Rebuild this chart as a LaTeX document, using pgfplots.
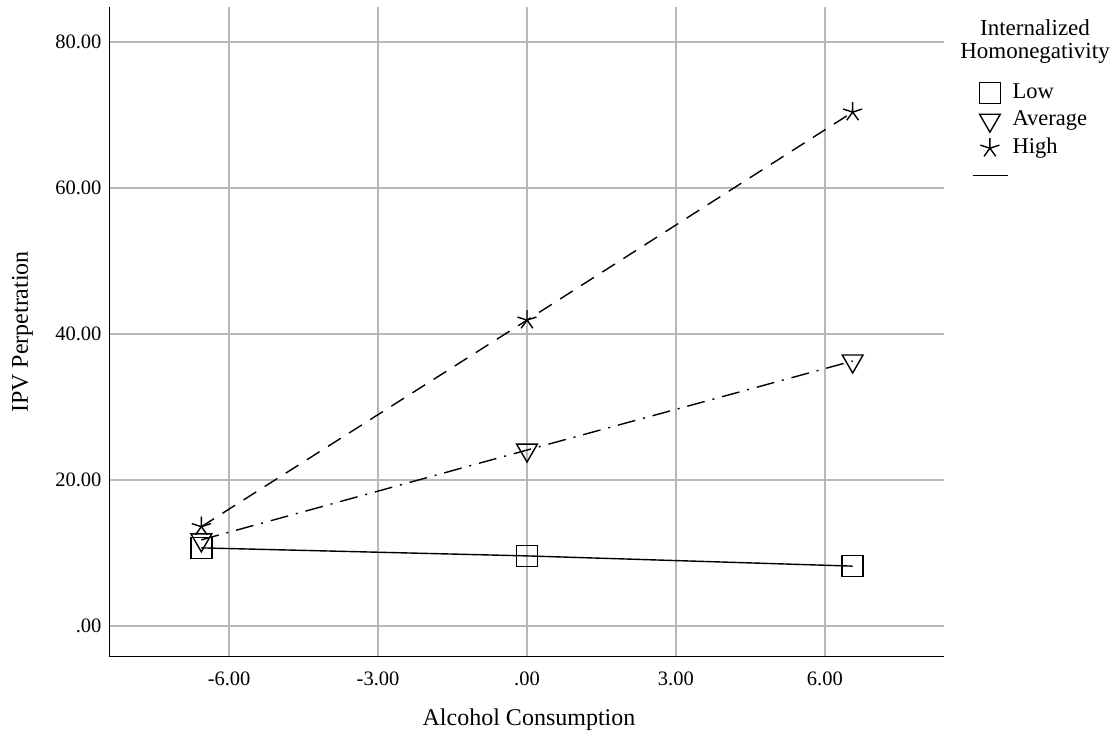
\documentclass[border=0pt]{standalone}
\usepackage{fontspec}
\setmainfont{Liberation Serif}
\usepackage{pgfplots}
\pgfplotsset{compat=1.18}
\begin{document}
\begin{tikzpicture}[x=1pt,y=1pt]
\path[use as bounding box] (-110,-79) rectangle (1007,657);
\begin{axis}[
  at={(0,0)}, anchor=south west,
  scale only axis, width=834pt, height=650pt,
  xmin=-8.4, xmax=8.4, ymin=-4.25, ymax=84.8,
  axis lines*=left,
  axis line style={line width=1pt, black},
  xtick={-6,-3,0,3,6}, xticklabels={-6.00,-3.00,.00,3.00,6.00},
  ytick={0,20,40,60,80}, yticklabels={.00,20.00,40.00,60.00,80.00},
  major tick length=0pt,
  grid=major, grid style={color=black!28, line width=1.3pt},
  tick label style={font=\fontsize{20.5}{24}\selectfont},
  xticklabel style={yshift=-11pt},
  yticklabel style={xshift=-5pt},
  every axis x label/.style={at={(axis description cs:0.5,0)}, anchor=center, xshift=2pt, yshift=-63pt, font=\fontsize{24}{28}\selectfont},
  every axis y label/.style={at={(axis description cs:0,0.5)}, xshift=-87.5pt, rotate=90, anchor=center, font=\fontsize{24}{28}\selectfont},
  xlabel={Alcohol Consumption},
  ylabel={IPV Perpetration},
  legend style={at={(axis description cs:1.0336,0.8846)}, anchor=north west, draw=none, fill=none,
    font=\fontsize{22.5}{26}\selectfont, inner sep=0pt, row sep=5pt, column sep=4pt,
    nodes={inner sep=0pt, anchor=west, text height=16pt, text depth=6pt}},
  legend cell align=left,
  legend image code/.code={\draw[mark repeat=2,mark phase=2,#1] plot coordinates {(0pt,0pt)(17pt,0pt)(35pt,0pt)};},
]
\addplot[forget plot, black, line width=1.4pt, solid, mark=square, mark size=10.5pt,
  mark options={solid, line width=1.4pt, fill=none}]
  coordinates {(-6.56,10.7) (0,9.6) (6.56,8.2)};
\addplot[forget plot, black, line width=1.4pt, dash pattern=on 18pt off 8pt on 2pt off 8pt, mark=triangle, mark size=12pt,
  mark options={rotate=180, solid, line width=1.4pt, fill=none}]
  coordinates {(-6.56,11.8) (0,24.1) (6.56,36.3)};
\addplot[forget plot, black, line width=1.4pt, dash pattern=on 15pt off 10pt, mark=star, mark size=10pt,
  mark options={solid, line width=1.4pt, fill=none}]
  coordinates {(-6.56,13.6) (0,41.9) (6.56,70.4)};
\addlegendimage{only marks, black, mark=square, mark size=10.5pt, mark options={solid, line width=1.4pt, fill=none}}
\addlegendimage{only marks, black, mark=triangle, mark size=12pt, mark options={rotate=180, solid, line width=1.4pt, fill=none}}
\addlegendimage{only marks, black, mark=star, mark size=10pt, mark options={solid, line width=1.4pt, fill=none}}
\addlegendimage{black, line width=1.4pt}
\legend{Low,Average,High,\mbox{}}
\end{axis}
\node[align=center, font=\fontsize{23}{23.5}\selectfont] at (925,615.5) {Internalized\\Homonegativity};
\end{tikzpicture}
\end{document}
